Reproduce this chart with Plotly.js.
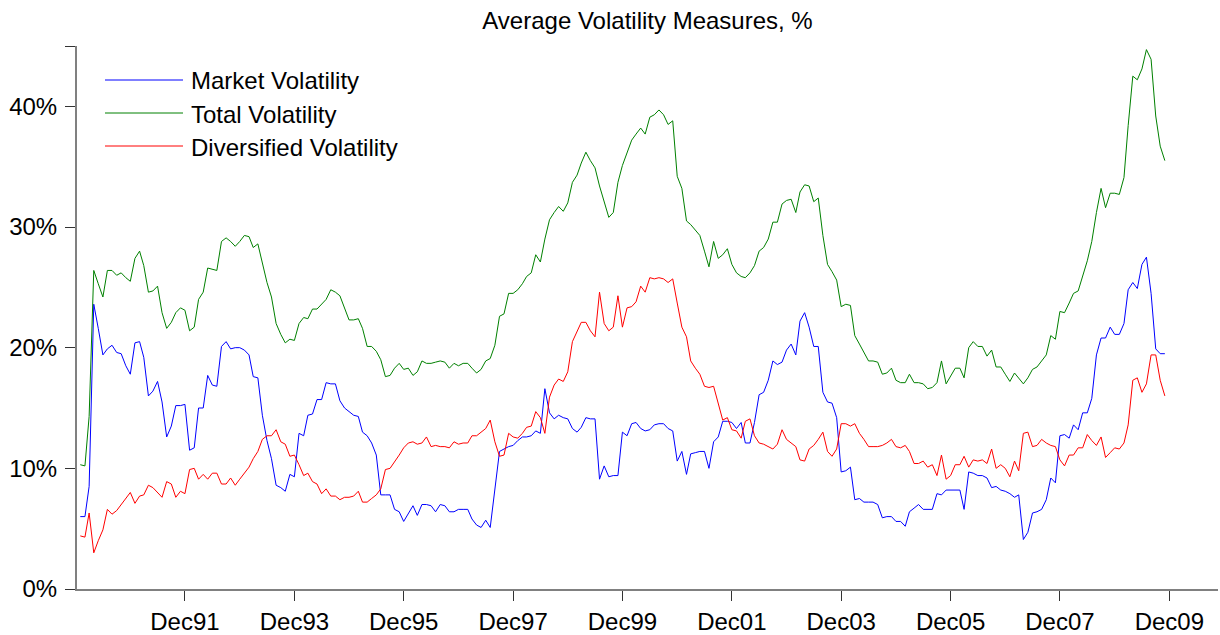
<!DOCTYPE html>
<html>
<head>
<meta charset="utf-8">
<script src="https://cdn.plot.ly/plotly-3.0.1.min.js"></script>
<style>html,body{margin:0;padding:0;background:#fff}#chart{width:1220px;height:635px}</style>
</head>
<body>
<div id="chart"></div>
<script>
// First observation: January 1990, monthly through November 2009
const startYear = 1990;
const startMonth = 1;

const marketVol = [
6.0,6.0,8.5,23.6,21.6,19.4,19.9,20.2,19.6,19.5,18.5,17.8,20.4,20.5,19.2,16.0,16.4,17.2,15.5,12.6,
13.5,15.2,15.2,15.3,11.5,11.7,15.0,15.0,17.7,16.9,16.8,20.1,20.5,19.9,20.0,20.0,19.8,19.4,17.6,17.5,
14.4,12.3,10.8,8.6,8.4,8.1,9.5,9.3,12.9,12.7,14.4,14.5,15.7,15.7,17.1,17.0,17.0,15.6,15.0,14.7,
14.4,14.3,13.0,12.7,12.1,11.1,7.8,7.8,7.8,6.6,6.4,5.6,6.2,6.9,6.1,7.0,7.0,6.9,6.4,7.0,
6.9,6.4,6.4,6.6,6.6,6.6,5.8,5.3,5.1,5.7,5.1,8.2,11.4,11.6,11.8,11.9,12.3,12.6,12.6,12.7,
13.1,12.9,16.6,14.6,14.1,14.4,14.2,14.1,13.3,13.0,13.4,14.2,14.1,14.1,9.1,10.2,9.3,9.4,9.4,13.0,
12.7,13.7,13.8,13.3,13.1,13.2,13.6,13.7,13.7,13.3,13.1,10.6,11.4,9.5,11.2,11.3,11.4,11.4,10.0,12.2,
12.6,13.9,13.9,13.8,13.3,13.8,12.1,12.1,13.8,16.1,16.3,17.3,18.9,18.6,18.8,19.8,20.3,19.4,22.2,22.9,
21.7,20.1,20.1,16.3,15.5,15.4,14.2,9.7,9.8,10.1,7.4,7.5,7.2,7.2,7.2,7.0,5.9,6.0,6.0,5.6,
5.6,5.2,6.4,6.7,7.0,6.6,6.6,6.6,7.9,7.8,8.2,8.2,8.2,8.2,6.6,9.7,9.6,9.4,9.4,9.2,
8.4,8.5,8.2,8.1,7.9,7.6,7.8,4.1,4.7,6.3,6.4,6.6,7.4,9.2,8.8,12.7,12.8,12.5,13.6,13.2,
14.6,14.6,15.8,19.4,20.8,20.8,21.7,21.1,21.1,22.0,24.8,25.4,24.9,26.9,27.5,24.5,19.9,19.5,19.5
];

const totalVol = [
10.3,10.2,14.3,26.4,25.3,24.2,26.4,26.4,26.0,26.2,25.8,25.5,27.4,28.0,26.8,24.6,24.7,25.1,22.9,21.6,
22.1,22.9,23.3,23.1,21.4,21.7,24.0,24.6,26.6,26.5,26.4,28.8,29.1,28.8,28.4,28.8,29.3,29.2,28.3,28.6,
27.0,25.4,24.2,22.0,21.1,20.4,20.7,20.6,22.0,22.5,22.4,23.2,23.2,23.6,24.0,24.8,24.6,24.3,23.2,22.3,
22.3,22.4,21.6,20.1,20.1,19.7,19.0,17.6,17.7,18.3,18.7,18.2,18.3,17.7,18.0,18.9,18.7,18.7,18.8,18.9,
18.8,18.3,18.7,18.5,18.7,18.7,18.3,17.9,18.2,18.9,19.1,20.2,22.6,22.8,24.5,24.5,24.8,25.3,25.9,26.2,
27.7,27.1,29.0,30.6,31.2,31.7,31.3,32.0,33.7,34.3,35.3,36.2,35.5,34.9,33.4,32.2,30.8,31.2,33.7,35.1,
36.1,37.2,37.7,38.2,37.7,39.1,39.3,39.7,39.3,38.5,38.8,34.2,33.2,30.5,30.2,29.7,29.3,28.0,26.7,28.8,
27.4,27.7,28.2,26.9,26.2,25.9,25.8,26.2,26.8,28.0,28.3,29.0,30.4,30.4,31.9,32.2,32.3,31.2,32.9,33.5,
33.4,32.1,32.4,29.3,26.9,26.3,25.6,23.4,23.6,23.5,21.0,20.3,19.6,18.9,18.9,18.8,17.8,17.9,18.3,17.3,
17.1,17.1,17.8,17.1,17.1,17.0,16.6,16.7,17.1,18.9,17.0,17.6,18.3,18.3,17.5,20.0,20.5,20.1,20.1,19.3,
19.8,18.4,18.4,17.8,17.2,17.9,17.5,17.0,17.5,18.2,18.4,18.9,19.4,21.0,20.7,23.0,22.9,23.7,24.5,24.7,
26.0,27.2,28.8,31.2,33.2,31.6,32.8,32.8,32.7,34.1,38.4,42.5,42.2,43.1,44.7,43.9,39.2,36.7,35.5
];

const diversifiedVol = [
4.4,4.3,6.3,3.0,4.0,4.9,6.6,6.2,6.5,7.0,7.5,8.0,7.1,7.7,7.8,8.6,8.4,8.0,7.6,8.9,
8.7,7.6,8.1,7.9,9.9,10.0,9.1,9.5,9.1,9.6,9.6,8.7,8.7,9.2,8.6,9.1,9.6,10.1,10.8,11.4,
12.4,12.7,12.7,13.2,12.2,12.0,11.0,11.1,10.3,9.4,9.6,8.9,8.7,7.9,8.3,7.7,7.7,7.4,7.6,7.6,
7.7,8.1,7.2,7.2,7.5,7.8,8.3,9.9,10.0,10.5,11.1,11.7,12.1,12.2,12.0,12.1,12.6,11.8,11.9,11.8,
11.8,11.7,12.2,12.0,12.1,12.1,12.7,12.7,13.0,13.3,14.0,12.2,11.0,11.1,12.9,12.6,12.5,12.9,13.4,13.5,
14.7,14.2,12.9,15.9,16.9,17.4,17.2,18.0,20.5,21.4,22.1,22.1,21.4,20.9,24.6,22.0,21.4,21.7,24.3,21.7,
23.3,23.4,23.8,25.1,24.6,25.8,25.7,25.8,25.7,25.4,25.7,23.7,21.7,20.9,18.9,18.3,17.8,16.8,16.7,16.8,
15.4,14.0,14.2,13.2,13.1,12.5,13.9,14.1,12.7,12.1,12.0,11.8,11.6,12.0,13.2,12.4,12.1,11.8,10.7,10.6,
11.6,11.9,12.4,13.0,11.4,11.0,11.6,13.7,13.7,13.5,13.7,12.9,12.4,11.8,11.8,11.8,11.9,12.1,12.4,11.8,
11.7,11.9,11.4,10.4,10.4,10.6,10.1,10.3,9.4,11.1,9.1,9.4,10.3,10.3,11.0,10.1,10.7,10.6,10.7,10.4,
11.6,10.0,10.3,10.0,9.3,10.6,9.8,12.9,13.0,11.8,11.9,12.4,12.1,11.9,11.8,10.7,10.2,11.1,11.1,11.7,
11.7,12.8,12.3,11.9,12.6,10.9,11.3,11.7,11.6,12.1,13.6,17.3,17.5,16.3,17.0,19.4,19.4,17.3,16.0
];

const seriesNames = ['Market Volatility', 'Total Volatility', 'Diversified Volatility'];
const seriesColors = ['#0000ff', '#008000', '#ff0000'];

const xTickVals = ['1991-12-01','1993-12-01','1995-12-01','1997-12-01','1999-12-01',
                   '2001-12-01','2003-12-01','2005-12-01','2007-12-01','2009-12-01'];
const xTickText = ['Dec91','Dec93','Dec95','Dec97','Dec99','Dec01','Dec03','Dec05','Dec07','Dec09'];
const yTickVals = [0, 10, 20, 30, 40, 45];
const yTickText = ['0%', '10%', '20%', '30%', '40%', ''];

function monthDates(n) {
  const out = [];
  for (let k = 0; k < n; k++) {
    const y = startYear + Math.floor((startMonth - 1 + k) / 12);
    const m = (startMonth - 1 + k) % 12 + 1;
    out.push(y + '-' + String(m).padStart(2, '0') + '-01');
  }
  return out;
}
const dates = monthDates(marketVol.length);
const seriesValues = [marketVol, totalVol, diversifiedVol];

const traces = seriesValues.map((vals, k) => ({
  type: 'scatter', mode: 'lines', x: dates, y: vals, name: seriesNames[k],
  line: {color: seriesColors[k], width: 1}, hoverinfo: 'x+y+name'
}));

const W = 1220, H = 635, ML = 77, MR = 2, MT = 46, MB = 46;
const pw = W - ML - MR, ph = H - MT - MB;
const px2x = p => (p - ML) / pw;
const px2y = p => (H - MB - p) / ph;

const FONT = 'Liberation Sans, Arial, Helvetica, sans-serif';
const FS = 24;
const legendRows = [80, 113, 146];
const shapes = [], annotations = [];
legendRows.forEach((r, k) => {
  shapes.push({type: 'line', xref: 'paper', yref: 'paper',
    x0: px2x(105), x1: px2x(183), y0: px2y(r), y1: px2y(r),
    line: {color: seriesColors[k], width: 1}});
  annotations.push({xref: 'paper', yref: 'paper', x: px2x(189), y: px2y(r + 1),
    xanchor: 'left', yanchor: 'middle', showarrow: false, text: seriesNames[k],
    font: {family: FONT, size: FS, color: '#000'}});
});

const layout = {
  width: W, height: H,
  margin: {l: ML, r: MR, t: MT, b: MB, pad: 0},
  paper_bgcolor: '#ffffff', plot_bgcolor: '#ffffff',
  font: {family: FONT, size: FS, color: '#000'},
  title: {text: 'Average Volatility Measures, %', x: 0.5, xref: 'paper', xanchor: 'center',
          y: 1 - 21 / H, yref: 'container', yanchor: 'middle',
          font: {family: FONT, size: FS, color: '#000'}},
  showlegend: false,
  xaxis: {type: 'date', range: ['1989-12-10', '2010-10-22'],
          tickmode: 'array', tickvals: xTickVals, ticktext: xTickText,
          ticks: 'outside', ticklen: 10, tickwidth: 1, tickcolor: '#333',
          showline: true, linecolor: '#808080', linewidth: 2,
          showgrid: false, zeroline: false, ticklabelstandoff: 0,
          tickfont: {family: FONT, size: FS, color: '#000'}},
  yaxis: {range: [0, 45], tickmode: 'array', tickvals: yTickVals, ticktext: yTickText,
          ticks: 'outside', ticklen: 10, tickwidth: 1, tickcolor: '#333',
          showline: true, linecolor: '#808080', linewidth: 2,
          showgrid: false, zeroline: false, ticklabelstandoff: 3,
          tickfont: {family: FONT, size: FS, color: '#000'}},
  shapes: shapes,
  annotations: annotations
};

Plotly.newPlot('chart', traces, layout, {displayModeBar: false, staticPlot: true});
</script>
</body>
</html>
